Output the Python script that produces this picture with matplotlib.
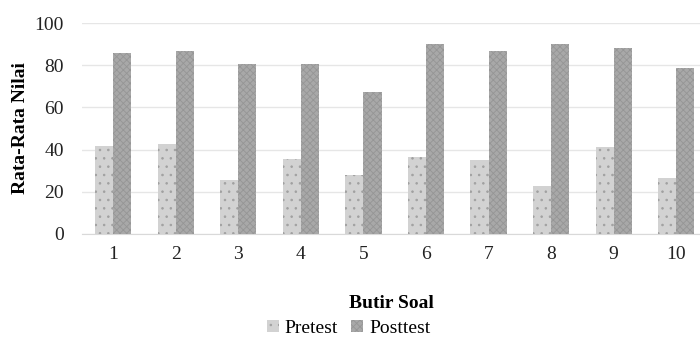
import numpy as np
import matplotlib
matplotlib.use("Agg")
import matplotlib.pyplot as plt

# data
butir = ["1", "2", "3", "4", "5", "6", "7", "8", "9", "10"]
pretest = [41.9, 42.6, 25.4, 35.5, 28.0, 36.6, 34.9, 22.9, 41.1, 26.7]
posttest = [85.6, 86.7, 80.4, 80.4, 67.4, 89.9, 86.9, 89.9, 88.0, 78.5]

plt.rcParams['font.family'] = ['Liberation Serif', 'DejaVu Serif']
plt.rcParams['hatch.linewidth'] = 0.6

fig = plt.figure(figsize=(7, 3.39), dpi=100)
ax = fig.add_axes([0.117, 0.31, 0.883, 0.622])

x = np.arange(len(butir))
w = 0.29
ax.bar(x - w / 2, pretest, w, color='#d2d2d2', edgecolor='#a0a0a0',
       hatch='..', linewidth=0, label='Pretest', zorder=3)
ax.bar(x + w / 2, posttest, w, color='#a8a8a8', edgecolor='#959595',
       hatch='xxxxx', linewidth=0, label='Posttest', zorder=3)

ax.set_ylim(0, 100)
ax.set_yticks([0, 20, 40, 60, 80, 100])
ax.set_xlim(-0.5, 9.38)
ax.set_xticks(x)
ax.set_xticklabels(butir)
ax.tick_params(length=0, labelsize=14, colors='#222222')
ax.tick_params(axis='x', pad=9)
ax.tick_params(axis='y', pad=13)
ax.grid(axis='y', color='#e6e6e6', linewidth=1, zorder=0)
for s in ['top', 'right', 'left']:
    ax.spines[s].set_visible(False)
ax.spines['bottom'].set_color('#d9d9d9')

ax.set_ylabel('Rata-Rata Nilai', fontsize=14, fontweight='bold', labelpad=4)
ax.set_xlabel('Butir Soal', fontsize=14, fontweight='bold', labelpad=23)

leg = fig.legend(loc='lower center', bbox_to_anchor=(0.498, -0.045), ncol=2,
                 frameon=False, fontsize=14, handlelength=0.6, handleheight=0.6,
                 handletextpad=0.3, columnspacing=0.7)

fig.savefig('out.png', dpi=100)
